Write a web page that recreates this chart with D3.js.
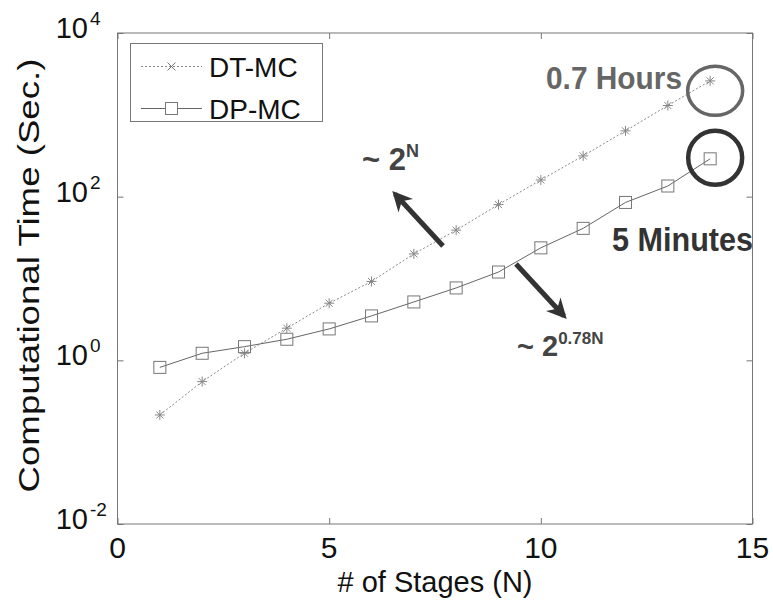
<!DOCTYPE html>
<html>
<head>
<meta charset="utf-8">
<script src="https://cdn.jsdelivr.net/npm/d3@7"></script>
<style>
  html, body { margin: 0; padding: 0; background: #fff; }
  svg text { font-family: "Liberation Sans", Arial, Helvetica, sans-serif; }
</style>
</head>
<body>
<svg id="chart" width="773" height="605"></svg>
<script>
// Number of stages N
const stages = [1, 2, 3, 4, 5, 6, 7, 8, 9, 10, 11, 12, 13, 14];
// Computational time in seconds
const dtmc = [0.215, 0.55, 1.22, 2.47, 4.99, 9.2, 20, 39, 80, 160, 315, 637, 1300, 2600];
const dpmc = [0.82, 1.22, 1.47, 1.81, 2.42, 3.49, 5.17, 7.67, 12.0, 23.7, 41, 85, 135, 290];

const xTicks = [0, 5, 10, 15];
const yTicks = [1e-2, 1e0, 1e2, 1e4];
const yTickExp = ["-2", "0", "2", "4"];
const seriesNames = ["DT-MC", "DP-MC"];

const svg = d3.select("#chart");
const mLeft = 117.5, mRight = 752.5, mTop = 33, mBottom = 524;

const x = d3.scaleLinear().domain([0, 15]).range([mLeft, mRight]);
const y = d3.scaleLog().domain([1e-2, 1e4]).range([mBottom, mTop]);

const axisColor = "#777";

// frame with inward ticks on all four sides
const g = svg.append("g");
function styleAxis(sel) {
  sel.select(".domain").remove();
  sel.selectAll("line").attr("stroke", axisColor);
  sel.selectAll("text").remove();
}
g.append("g").attr("transform", `translate(0,${mBottom})`)
  .call(d3.axisBottom(x).tickValues(xTicks).tickSize(-6)).call(styleAxis);
g.append("g").attr("transform", `translate(0,${mTop})`)
  .call(d3.axisTop(x).tickValues(xTicks).tickSize(-6)).call(styleAxis);
g.append("g").attr("transform", `translate(${mLeft},0)`)
  .call(d3.axisLeft(y).tickValues(yTicks).tickSize(-6)).call(styleAxis);
g.append("g").attr("transform", `translate(${mRight},0)`)
  .call(d3.axisRight(y).tickValues(yTicks).tickSize(-6)).call(styleAxis);
g.append("rect").attr("x", mLeft).attr("y", mTop)
  .attr("width", mRight - mLeft).attr("height", mBottom - mTop)
  .attr("fill", "none").attr("stroke", axisColor).attr("stroke-width", 1);

// tick labels
svg.append("g").selectAll("text").data(xTicks).join("text")
  .attr("x", d => x(d)).attr("y", mBottom + 34)
  .attr("text-anchor", "middle").attr("font-size", 30).attr("fill", "#111")
  .text(d => d);

const ylg = svg.append("g");
yTicks.forEach((d, i) => {
  ylg.append("text")
    .attr("x", 88).attr("y", y(d) + 5)
    .attr("text-anchor", "end").attr("font-size", 29).attr("fill", "#111")
    .text("10");
  ylg.append("text")
    .attr("x", 90).attr("y", y(d) - 8)
    .attr("font-size", 19).attr("fill", "#111")
    .text(yTickExp[i]);
});

// axis titles
svg.append("text").attr("x", (mLeft + mRight) / 2).attr("y", 592)
  .attr("text-anchor", "middle").attr("font-size", 29).attr("fill", "#111")
  .text("# of Stages (N)");
svg.append("text")
  .attr("transform", `translate(39,${(mTop + mBottom) / 2 - 3}) rotate(-90)`)
  .attr("text-anchor", "middle").attr("font-size", 29).attr("fill", "#111")
  .attr("textLength", 434).attr("lengthAdjust", "spacingAndGlyphs")
  .text("Computational Time (Sec.)");

// series
const dtData = stages.map((n, i) => [n, dtmc[i]]);
const dpData = stages.map((n, i) => [n, dpmc[i]]);
const line = d3.line().x(d => x(d[0])).y(d => y(d[1]));

svg.append("path").datum(dtData).attr("d", line)
  .attr("fill", "none").attr("stroke", "#888").attr("stroke-width", 1)
  .attr("stroke-dasharray", "2,2");
svg.append("path").datum(dpData).attr("d", line)
  .attr("fill", "none").attr("stroke", "#666").attr("stroke-width", 1);

function asterisk(sel, r) {
  const p = [];
  for (let k = 0; k < 4; k++) {
    const a = k * Math.PI / 4;
    p.push(`M${-r * Math.cos(a)},${-r * Math.sin(a)}L${r * Math.cos(a)},${r * Math.sin(a)}`);
  }
  sel.append("path").attr("d", p.join("")).attr("stroke", "#888")
    .attr("stroke-width", 1).attr("fill", "none");
}
svg.append("g").selectAll("g").data(dtData).join("g")
  .attr("transform", d => `translate(${x(d[0])},${y(d[1])})`)
  .call(asterisk, 5);

svg.append("g").selectAll("rect").data(dpData).join("rect")
  .attr("x", d => x(d[0]) - 6).attr("y", d => y(d[1]) - 6)
  .attr("width", 12).attr("height", 12)
  .attr("fill", "none").attr("stroke", "#777").attr("stroke-width", 1);

// legend
const lg = svg.append("g");
lg.append("rect").attr("x", 130.5).attr("y", 43.5).attr("width", 192).attr("height", 78)
  .attr("fill", "#fff").attr("stroke", axisColor);
const rows = [66.5, 108.5];
lg.append("line").attr("x1", 141).attr("x2", 202).attr("y1", rows[0]).attr("y2", rows[0])
  .attr("stroke", "#888").attr("stroke-dasharray", "2,2");
lg.append("path")
  .attr("d", `M${171.5 - 4},${rows[0] - 4}L${171.5 + 4},${rows[0] + 4}M${171.5 - 4},${rows[0] + 4}L${171.5 + 4},${rows[0] - 4}`)
  .attr("stroke", "#777");
lg.append("line").attr("x1", 141).attr("x2", 202).attr("y1", rows[1]).attr("y2", rows[1])
  .attr("stroke", "#666");
lg.append("rect").attr("x", 171.5 - 6).attr("y", rows[1] - 6).attr("width", 12).attr("height", 12)
  .attr("fill", "#fff").attr("stroke", "#777");
lg.selectAll("text.name").data(seriesNames).join("text").attr("class", "name")
  .attr("x", 209).attr("y", (d, i) => rows[i] + 10)
  .attr("font-size", 28).attr("fill", "#111").text(d => d);

// annotations
const ann = svg.append("g").attr("font-weight", "bold");
ann.append("text").attr("x", 546).attr("y", 89).attr("font-size", 31)
  .attr("fill", "#666").attr("textLength", 136).attr("lengthAdjust", "spacingAndGlyphs")
  .text("0.7 Hours");
ann.append("text").attr("x", 612).attr("y", 251).attr("font-size", 34)
  .attr("fill", "#333").attr("textLength", 141).attr("lengthAdjust", "spacingAndGlyphs")
  .text("5 Minutes");

// circles around the N = 14 results
const n14 = stages.length - 1;
svg.append("ellipse").attr("cx", x(stages[n14]) + 5).attr("cy", y(dtmc[n14]) + 10)
  .attr("rx", 27.5).attr("ry", 24.5).attr("fill", "none")
  .attr("stroke", "#666").attr("stroke-width", 3.5);
svg.append("circle").attr("cx", x(stages[n14]) + 5).attr("cy", y(dpmc[n14]) - 1)
  .attr("r", 27).attr("fill", "none")
  .attr("stroke", "#333").attr("stroke-width", 4.5);

// growth-rate labels
const t1 = ann.append("text").attr("x", 362).attr("y", 170).attr("fill", "#444").attr("font-size", 31);
t1.append("tspan").text("~ 2");
t1.append("tspan").attr("font-size", 18).attr("dy", -13).text("N");

const t2 = ann.append("text").attr("x", 517).attr("y", 356).attr("fill", "#444").attr("font-size", 29);
t2.append("tspan").text("~ 2");
t2.append("tspan").attr("font-size", 17).attr("dy", -12).text("0.78N");

// arrows
svg.append("defs").append("marker").attr("id", "head")
  .attr("viewBox", "0 0 10 10").attr("refX", 8).attr("refY", 5)
  .attr("markerWidth", 4).attr("markerHeight", 4).attr("orient", "auto")
  .append("path").attr("d", "M0,0L10,5L0,10L3,5Z").attr("fill", "#333");
svg.append("line").attr("x1", 443).attr("y1", 246).attr("x2", 395).attr("y2", 194)
  .attr("stroke", "#333").attr("stroke-width", 5).attr("marker-end", "url(#head)");
svg.append("line").attr("x1", 516).attr("y1", 264).attr("x2", 564).attr("y2", 316)
  .attr("stroke", "#333").attr("stroke-width", 5).attr("marker-end", "url(#head)");
</script>
</body>
</html>
